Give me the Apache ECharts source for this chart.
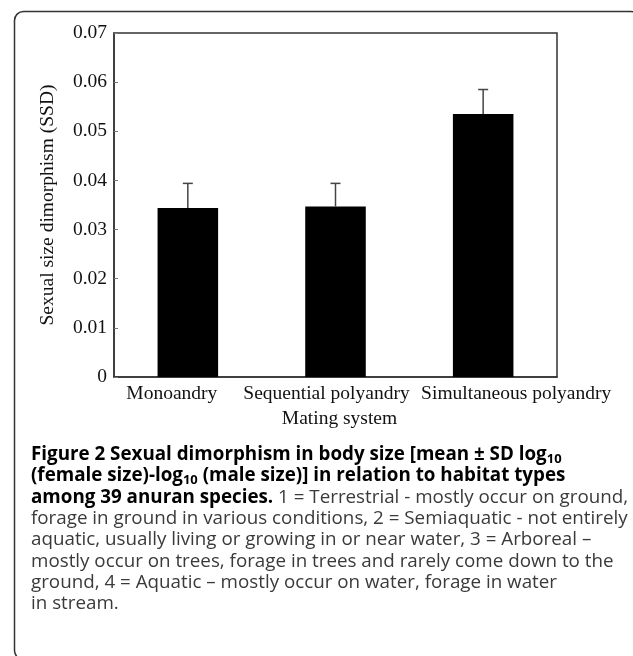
<!DOCTYPE html>
<html>
<head>
<meta charset="utf-8">
<script src="https://cdn.jsdelivr.net/npm/echarts@6/dist/echarts.min.js"></script>
<style>
  html, body { margin: 0; padding: 0; background: #fff; }
  #chart { width: 633px; height: 656px; }
</style>
</head>
<body>
<div id="chart"></div>
<script>
// values
var categories = ['Monoandry', 'Sequential polyandry', 'Simultaneous polyandry']
var ssdMean = [0.0344, 0.0347, 0.0535]
var ssdSd = [0.0050, 0.0047, 0.0050]

var serif = '"Liberation Serif", "Times New Roman", serif'
var sans = '"Open Sans", "Noto Sans", sans-serif'

var caption = [
  '{b|Figure 2 Sexual dimorphism in body size [mean \u00b1 SD log}{bs|10}',
  '{b|(female size)-log}{bs|10}{b| (male size)] in relation to habitat types}',
  '{b|among 39 anuran species.}{n| 1 = Terrestrial - mostly occur on ground,}',
  '{n|forage in ground in various conditions, 2 = Semiaquatic - not entirely}',
  '{n|aquatic, usually living or growing in or near water, 3 = Arboreal \u2013}',
  '{n|mostly occur on trees, forage in trees and rarely come down to the}',
  '{n|ground, 4 = Aquatic \u2013 mostly occur on water, forage in water}',
  '{n|in stream.}'
].join('\n')

var chart = echarts.init(document.getElementById('chart'))

var option = {
  animation: false,
  backgroundColor: '#fff',
  grid: {
    left: 114,
    top: 33,
    right: 76,
    bottom: 279,
    show: true,
    borderColor: '#333',
    borderWidth: 1.5
  },
  xAxis: {
    type: 'category',
    data: categories,
    name: 'Mating system',
    nameLocation: 'middle',
    nameGap: 31,
    nameTextStyle: { fontFamily: serif, fontSize: 19.5, color: '#111', padding: [0, 0, 0, 8] },
    axisLine: { lineStyle: { color: '#333', width: 1.5 } },
    axisTick: { inside: true, length: 4, lineStyle: { color: '#777' } },
    axisLabel: {
      fontFamily: serif,
      fontSize: 19.5,
      color: '#111',
      margin: 7,
      interval: 0,
      // labels in the original sit a little off the bar centres
      formatter: function (v, i) {
        return '{l' + i + '|' + v + '}'
      },
      rich: {
        l0: { fontFamily: serif, fontSize: 19.5, color: '#111', padding: [0, 32, 0, 0] },
        l1: { fontFamily: serif, fontSize: 19.5, color: '#111', padding: [0, 18, 0, 0] },
        l2: { fontFamily: serif, fontSize: 19.5, color: '#111', padding: [0, 0, 0, 66] }
      }
    }
  },
  yAxis: {
    type: 'value',
    min: 0,
    max: 0.07,
    interval: 0.01,
    name: 'Sexual size dimorphism (SSD)',
    nameLocation: 'middle',
    nameGap: 56,
    nameTextStyle: { fontFamily: serif, fontSize: 19.5, color: '#111' },
    splitLine: { show: false },
    axisLine: { show: true, lineStyle: { color: '#333', width: 1.5 } },
    axisTick: { show: true, inside: true, length: 4, lineStyle: { color: '#777' } },
    axisLabel: {
      fontFamily: serif,
      fontSize: 19.5,
      color: '#111',
      margin: 7,
      formatter: function (v) {
        return v === 0 ? '0' : v.toFixed(2)
      }
    }
  },
  series: [
    {
      type: 'bar',
      data: ssdMean,
      barWidth: '41%',
      itemStyle: { color: '#000' }
    },
    {
      type: 'custom',
      data: ssdMean.map(function (m, i) {
        return [i, m, m + ssdSd[i]]
      }),
      renderItem: function (params, api) {
        var base = api.coord([api.value(0), api.value(1)])
        var top = api.coord([api.value(0), api.value(2)])
        var half = 5
        return {
          type: 'group',
          children: [
            {
              type: 'line',
              shape: { x1: base[0], y1: base[1], x2: top[0], y2: top[1] },
              style: { stroke: '#444', lineWidth: 1.5 }
            },
            {
              type: 'line',
              shape: { x1: top[0] - half, y1: top[1], x2: top[0] + half, y2: top[1] },
              style: { stroke: '#444', lineWidth: 1.5 }
            }
          ]
        }
      },
      z: 3
    }
  ],
  graphic: [
    {
      type: 'rect',
      shape: { x: 14.5, y: 11.5, width: 625, height: 648, r: 9 },
      style: { fill: 'none', stroke: '#333', lineWidth: 1.5 },
      silent: true
    },
    {
      type: 'text',
      left: 31,
      top: 444,
      style: {
        text: caption,
        fontFamily: sans,
        fontSize: 18.8,
        lineHeight: 21.3,
        fill: '#333',
        rich: {
          b: { fontFamily: sans, fontSize: 18.8, fontWeight: 'bold', fill: '#000', lineHeight: 21.3 },
          bs: { fontFamily: sans, fontSize: 13, fontWeight: 'bold', fill: '#000', lineHeight: 13, verticalAlign: 'bottom' },
          n: { fontFamily: sans, fontSize: 18.8, fill: '#3a3a3a', lineHeight: 21.3 }
        }
      }
    }
  ]
}

chart.setOption(option)
</script>
</body>
</html>
